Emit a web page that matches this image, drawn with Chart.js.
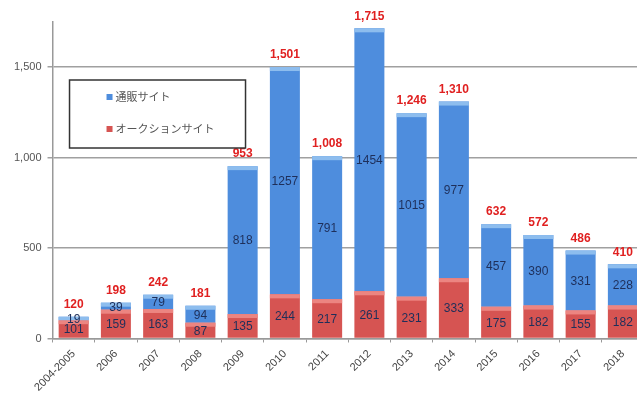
<!DOCTYPE html>
<html>
<head>
<meta charset="utf-8">
<script src="https://cdn.jsdelivr.net/npm/chart.js@4"></script>
<style>
  html, body { margin: 0; padding: 0; background: #fff; overflow: hidden; }
  #wrap { width: 648px; height: 399px; }
</style>
</head>
<body>
<div id="wrap"><canvas id="grafico"></canvas></div>
<script>
const years = ['2004-2005', '2006', '2007', '2008', '2009', '2010', '2011', '2012', '2013', '2014', '2015', '2016', '2017', '2018'];
const auction = [101, 159, 163, 87, 135, 244, 217, 261, 231, 333, 175, 182, 155, 182]; // オークションサイト
const tsuhan = [19, 39, 79, 94, 818, 1257, 791, 1454, 1015, 977, 457, 390, 331, 228]; // 通販サイト
const totals = ['120', '198', '242', '181', '953', '1,501', '1,008', '1,715', '1,246', '1,310', '632', '572', '486', '410'];
const yTicks = [0, 500, 1000, 1500];

const blue = '#4e8ddd';
const red = '#d65452';

// 上端のハイライト + 数値ラベル
const labelPlugin = {
  id: 'labels',
  afterDatasetsDraw(chart) {
    const ctx = chart.ctx;
    ctx.save();
    const tops = ['#ec8581', '#8dbdee'];
    chart.data.datasets.forEach((ds, di) => {
      const meta = chart.getDatasetMeta(di);
      meta.data.forEach((bar, i) => {
        ctx.fillStyle = tops[di];
        ctx.fillRect(bar.x - bar.width / 2, bar.y, bar.width, Math.min(4, bar.base - bar.y));
        ctx.fillStyle = '#1e2f5a';
        ctx.font = '12px "Liberation Sans", Arial, sans-serif';
        ctx.textAlign = 'center';
        ctx.textBaseline = 'middle';
        ctx.fillText(ds.data[i], bar.x, (bar.y + bar.base) / 2 + 1);
      });
    });
    const topMeta = chart.getDatasetMeta(chart.data.datasets.length - 1);
    ctx.fillStyle = '#e02020';
    ctx.font = 'bold 12px "Liberation Sans", Arial, sans-serif';
    topMeta.data.forEach((bar, i) => {
      ctx.fillText(totals[i], bar.x, bar.y - 12);
    });
    ctx.restore();
  }
};

// 枠付きの凡例
const legendBox = {
  id: 'legendBox',
  afterDraw(chart) {
    const ctx = chart.ctx;
    const a = chart.chartArea;
    const x = a.left + 17, y = 80, w = 176, h = 68;
    ctx.save();
    ctx.fillStyle = '#fff';
    ctx.fillRect(x, y, w, h);
    ctx.strokeStyle = '#333';
    ctx.lineWidth = 1.5;
    ctx.strokeRect(x, y, w, h);
    const items = [[chart.data.datasets[1], 97], [chart.data.datasets[0], 129]];
    ctx.font = '11px "Noto Sans CJK JP", sans-serif';
    ctx.textBaseline = 'middle';
    items.forEach(([ds, yy]) => {
      ctx.fillStyle = ds.backgroundColor;
      ctx.fillRect(x + 37, yy - 3, 6, 6);
      ctx.fillStyle = '#555';
      ctx.fillText(ds.label, x + 46, yy);
    });
    ctx.restore();
  }
};

new Chart(document.getElementById('grafico'), {
  type: 'bar',
  data: {
    labels: years,
    datasets: [
      { label: 'オークションサイト', data: auction, backgroundColor: red, categoryPercentage: 1, barPercentage: 0.71 },
      { label: '通販サイト', data: tsuhan, backgroundColor: blue, categoryPercentage: 1, barPercentage: 0.71 }
    ]
  },
  options: {
    animation: false,
    responsive: true,
    maintainAspectRatio: false,
    layout: { padding: { top: 22, left: 8, right: 4, bottom: 0 } },
    plugins: { legend: { display: false }, tooltip: { enabled: false } },
    scales: {
      x: {
        stacked: true,
        grid: { offset: true, drawOnChartArea: false, drawTicks: true, tickLength: 4, color: '#999' },
        border: { color: '#999', width: 1.5 },
        ticks: { color: '#444', maxRotation: 45, minRotation: 45, padding: 5, font: { size: 11, family: '"Liberation Sans", Arial, sans-serif' } }
      },
      y: {
        stacked: true,
        min: 0,
        max: 1750,
        afterBuildTicks(axis) { axis.ticks = yTicks.map(v => ({ value: v })); },
        grid: { color: '#a0a0a0', lineWidth: 1.5, tickLength: 5 },
        border: { color: '#999', width: 1.5 },
        ticks: {
          color: '#555',
          padding: 6,
          font: { size: 11, family: '"Liberation Sans", Arial, sans-serif' },
          callback: v => v.toLocaleString('en-US')
        }
      }
    }
  },
  plugins: [labelPlugin, legendBox]
});
</script>
</body>
</html>
